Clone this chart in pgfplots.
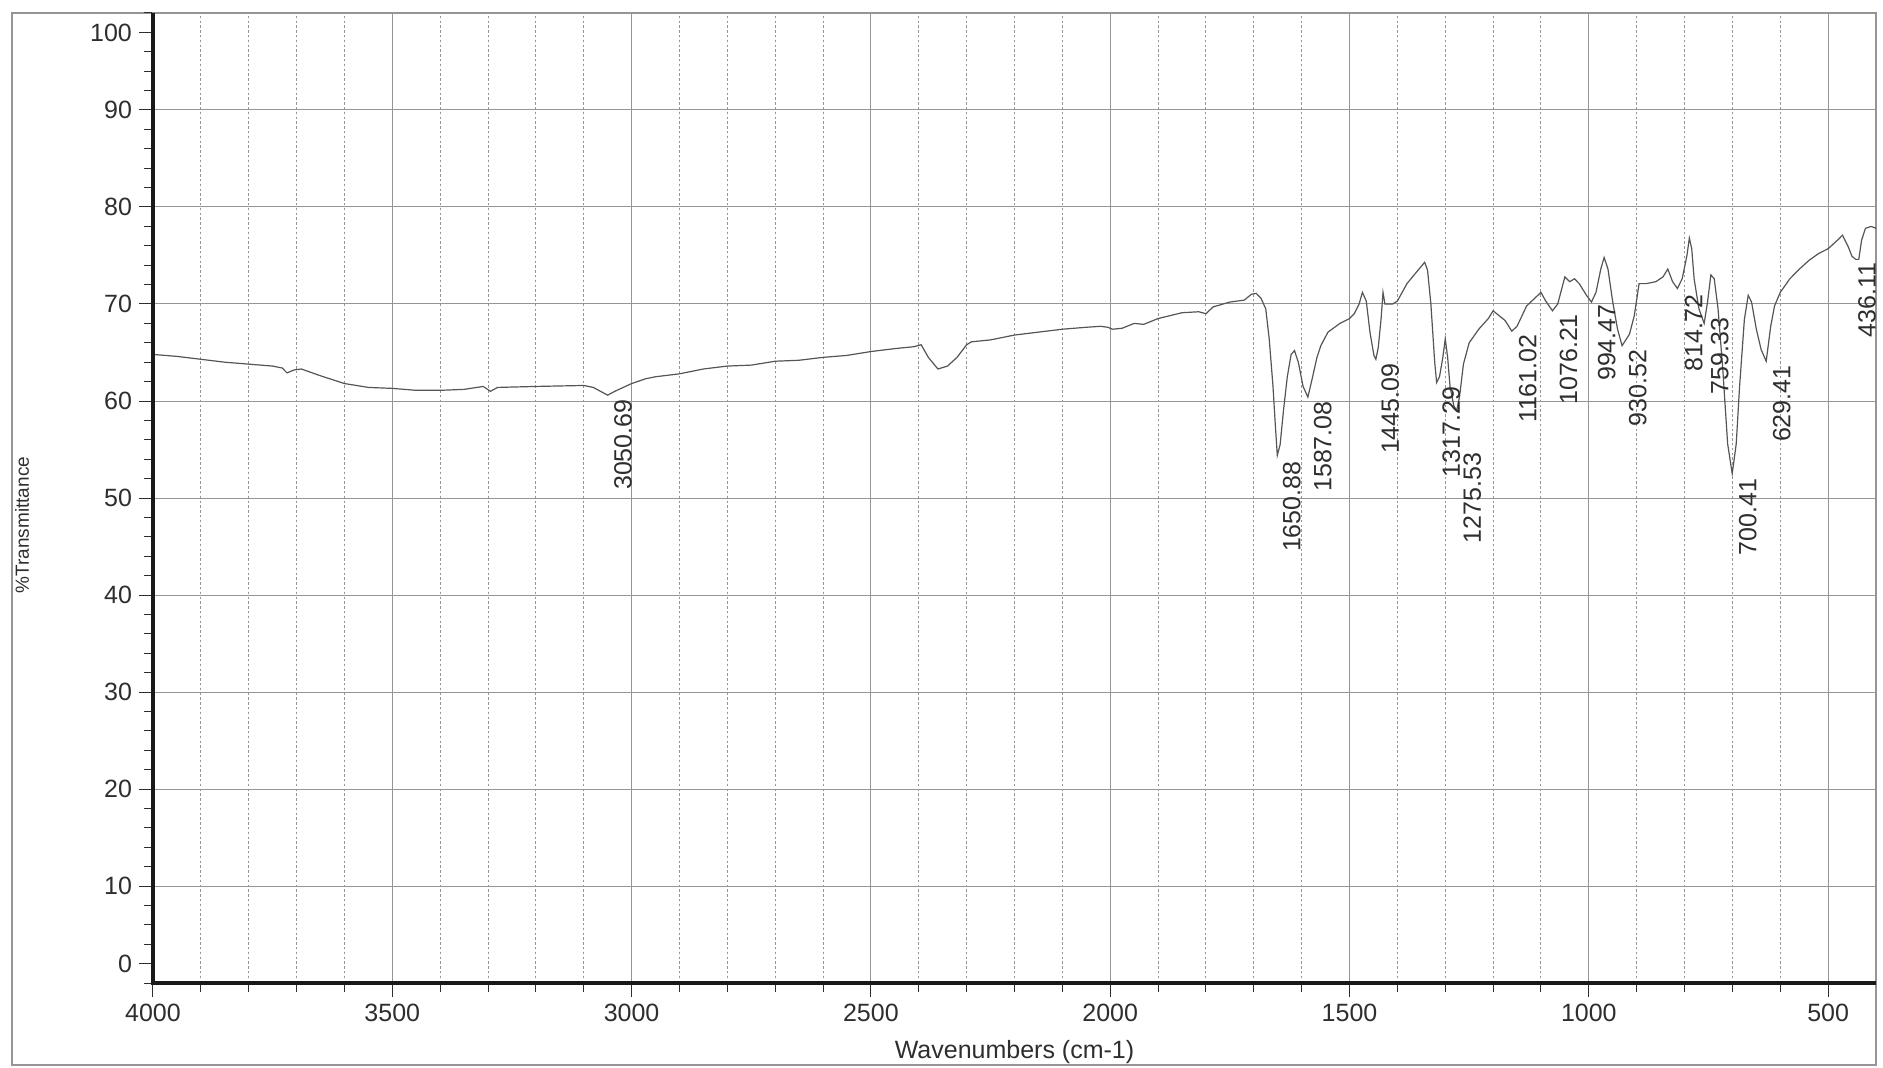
\documentclass[border=0pt]{standalone}
\usepackage{fontspec}
\setmainfont{Liberation Sans}
\usepackage{pgfplots}
\pgfplotsset{compat=1.18}
\usepackage{pgfplotstable}
\definecolor{txt}{HTML}{2E2E2E}
\definecolor{crv}{HTML}{555555}
\definecolor{grd}{HTML}{959595}

\pgfplotstableread{
w T
4000 64.8
3950 64.6
3900 64.3
3850 64.0
3800 63.8
3750 63.6
3730 63.4
3720 62.9
3705 63.2
3690 63.3
3650 62.6
3600 61.8
3550 61.4
3500 61.3
3450 61.1
3400 61.1
3350 61.2
3310 61.5
3295 61.0
3280 61.4
3200 61.5
3100 61.6
3080 61.4
3065 61.0
3050 60.6
3035 61.0
3000 61.8
2970 62.3
2950 62.5
2900 62.8
2850 63.3
2800 63.6
2750 63.7
2700 64.1
2650 64.2
2600 64.5
2550 64.7
2500 65.1
2450 65.4
2410 65.6
2395 65.8
2380 64.5
2360 63.3
2340 63.6
2320 64.5
2300 65.8
2290 66.1
2250 66.3
2200 66.8
2150 67.1
2100 67.4
2050 67.6
2020 67.7
2005 67.6
1995 67.4
1975 67.5
1950 68.0
1930 67.9
1900 68.5
1850 69.1
1815 69.2
1800 69.0
1785 69.7
1750 70.2
1720 70.4
1705 71.0
1695 71.1
1685 70.6
1675 69.5
1668 66.5
1660 61.6
1655 57.5
1650.88 54.4
1645 55.5
1638 59.0
1630 62.5
1622 64.8
1615 65.2
1607 64.0
1597 61.5
1587 60.4
1578 62.3
1568 64.5
1560 65.7
1545 67.1
1520 68.0
1500 68.5
1490 69.0
1480 70.0
1473 71.2
1465 70.3
1457 67.0
1449 64.7
1445 64.3
1440 65.5
1434 68.5
1430 71.2
1426 70.0
1410 70.0
1400 70.3
1380 72.1
1360 73.3
1343 74.3
1337 73.5
1330 70.0
1322 64.0
1318 61.9
1312 62.5
1305 64.5
1300 66.4
1295 64.5
1290 61.5
1282 59.5
1276 59.0
1270 60.5
1262 63.8
1250 66.0
1230 67.4
1210 68.5
1200 69.3
1190 68.9
1175 68.3
1161 67.2
1150 67.7
1130 69.8
1115 70.5
1100 71.2
1090 70.3
1076 69.3
1065 70.0
1050 72.8
1040 72.3
1030 72.6
1020 72.1
1005 70.9
994.5 70.2
985 71.2
975 73.6
968 74.8
960 73.6
950 70.2
940 67.4
930.5 65.7
915 66.9
905 68.8
895 72.1
880 72.1
860 72.3
845 72.8
835 73.6
825 72.3
815 71.6
805 72.6
795 75.0
790 76.8
785 75.7
780 72.6
770 69.5
759 68.0
752 70.2
745 73.0
738 72.6
730 69.5
720 63.2
710 55.6
700.4 52.5
692 55.6
685 61.5
675 68.4
667 70.9
660 70.2
650 67.4
640 65.3
629.4 64.1
620 67.7
612 69.8
600 71.2
580 72.6
560 73.6
540 74.5
520 75.2
500 75.7
480 76.6
470 77.1
458 75.9
450 74.9
442 74.6
436 74.6
430 76.6
422 77.8
410 78.0
400 77.8
}\spectrum

\pgfplotstableread{
w T lab
3037 60.2 3050.69
1640 53.8 1650.88
1575 60.0 1587.08
1434 63.9 1445.09
1307 61.5 1317.29
1263 54.7 1275.53
1147 66.9 1161.02
1062 69.0 1076.21
982 70.0 994.47
917 65.3 930.52
800 71.0 814.72
746 68.6 759.33
687 52.0 700.41
616 63.7 629.41
438 74.3 436.11
}\peaks

\begin{document}
\begin{tikzpicture}[font=\fontsize{12.5}{15}\selectfont, text=txt]
\path[use as bounding box] (0,0) rectangle (941.5pt,533.5pt);
\draw[grd, line width=0.6pt] (6pt,1pt) rectangle (938pt,527pt);
\begin{axis}[
  at={(76.5pt,42pt)}, anchor=south west,
  scale only axis, width=861.5pt, height=485pt,
  x dir=reverse, xmin=400, xmax=4000, ymin=0, ymax=100,
  xtick={500,1000,...,4000},
  minor xtick={600,700,800,900,1100,1200,1300,1400,1600,1700,1800,1900,2100,2200,2300,2400,2600,2700,2800,2900,3100,3200,3300,3400,3600,3700,3800,3900},
  ytick={10,20,...,90},
  minor ytick={0,2,...,100},
  extra y ticks={2,98}, extra y tick labels={0,100},
  extra tick style={grid=none},
  xmajorgrids=true, ymajorgrids=true, xminorgrids=true,
  major grid style={grd, line width=0.5pt},
  minor grid style={grd, line width=0.5pt, dash pattern=on 1.2pt off 1.2pt},
  tick align=outside, tick pos=left,
  major tick length=7pt, minor tick length=4.5pt,
  tick style={txt, line width=0.5pt},
  axis line style={grd, line width=0.6pt},
  /pgf/number format/1000 sep={},
  /pgf/number format/assume math mode=true,
  every tick label/.append style={text=txt, font=\fontsize{12.5}{15}\selectfont},
  xticklabel style={anchor=north},
  yticklabel style={anchor=east},
  xlabel={Wavenumbers (cm-1)}, ylabel={\%Transmittance},
  xlabel style={at={(rel axis cs:0.5,-0.0711)}, anchor=center, text=txt, font=\fontsize{12.5}{15}\selectfont},
  ylabel style={at={(rel axis cs:-0.0760,0.472)}, anchor=center, text=txt, font=\fontsize{9.5}{11}\selectfont},
  clip=false,
]
\addplot[crv, line width=0.6pt, mark=none] table[x=w, y=T] {\spectrum};
\addplot[draw=none, mark=none, nodes near coords, point meta=explicit symbolic,
  nodes near coords style={rotate=90, anchor=north east, inner sep=0pt, text=txt, font=\fontsize{12.5}{15}\selectfont}]
  table[x=w, y=T, meta=lab] {\peaks};
\draw[black!90, line width=1.6pt] (rel axis cs:0,1) -- (rel axis cs:0,0) -- (rel axis cs:1,0);
\end{axis}
\end{tikzpicture}
\end{document}
